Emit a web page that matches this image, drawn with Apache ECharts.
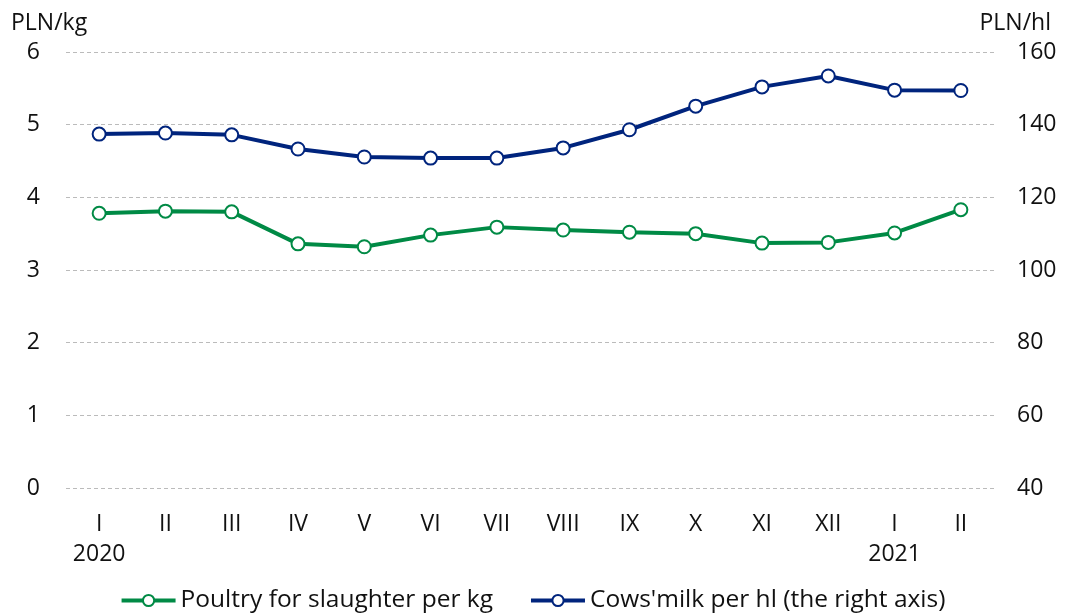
<!DOCTYPE html>
<html><head><meta charset="utf-8">
<script src="https://cdn.jsdelivr.net/npm/echarts@6/dist/echarts.min.js"></script>
<style>html,body{margin:0;padding:0;background:#fff}#c{width:1065px;height:614px}</style>
</head><body><div id="c"></div>
<script>
const categories = ['I\n2020','II','III','IV','V','VI','VII','VIII','IX','X','XI','XII','I\n2021','II'];
const poultry = [3.78,3.81,3.80,3.36,3.32,3.48,3.59,3.55,3.52,3.50,3.37,3.38,3.51,3.83];
const milk = [137.4,137.7,137.2,133.3,131.1,130.8,130.8,133.6,138.6,145.1,150.4,153.4,149.5,149.4];
const leftTicks = {min:0,max:6,interval:1};
const rightTicks = {min:40,max:160,interval:20};
const FONT = '"Open Sans", sans-serif';
const chart = echarts.init(document.getElementById('c'));
chart.setOption({
  animation:false,
  textStyle:{fontFamily:FONT},
  grid:{left:66,right:71,top:52,bottom:126},
  graphic:[
    {type:'text',left:11,top:12,style:{text:'PLN/kg',font:'23px "Open Sans"',fill:'#111'}},
    {type:'text',right:14,top:12,style:{text:'PLN/hl',font:'23px "Open Sans"',fill:'#111'}}
  ],
  legend:{top:583,left:'center',itemWidth:54,itemHeight:14,itemGap:36,
    lineStyle:{width:4},
    itemStyle:{borderWidth:3},
    textStyle:{fontFamily:FONT,fontSize:24.5,color:'#111'},
    data:['Poultry for slaughter per kg',"Cows'milk per hl (the right axis)"]},
  xAxis:{type:'category',data:categories,boundaryGap:true,
    axisLine:{show:false},axisTick:{show:false},
    axisLabel:{fontFamily:FONT,fontSize:23,color:'#111',margin:21,lineHeight:30,interval:0}},
  yAxis:[
    {type:'value',min:leftTicks.min,max:leftTicks.max,interval:leftTicks.interval,position:'left',
     axisLine:{show:false},axisTick:{show:false},
     axisLabel:{fontFamily:FONT,fontSize:23,color:'#111',margin:26},
     splitLine:{lineStyle:{color:'#bbb',type:[4,3],width:1}}},
    {type:'value',min:rightTicks.min,max:rightTicks.max,interval:rightTicks.interval,position:'right',
     axisLine:{show:false},axisTick:{show:false},
     axisLabel:{fontFamily:FONT,fontSize:23,color:'#111',margin:23},
     splitLine:{show:false}}
  ],
  series:[
    {name:'Poultry for slaughter per kg',type:'line',yAxisIndex:0,data:poultry,
     symbol:'emptyCircle',symbolSize:13,
     lineStyle:{color:'#008a45',width:4},
     itemStyle:{color:'#008a45',borderColor:'#008a45',borderWidth:3}},
    {name:"Cows'milk per hl (the right axis)",type:'line',yAxisIndex:1,data:milk,
     symbol:'emptyCircle',symbolSize:13,
     lineStyle:{color:'#00247d',width:4},
     itemStyle:{color:'#00247d',borderColor:'#00247d',borderWidth:3}}
  ]
});
</script></body></html>
